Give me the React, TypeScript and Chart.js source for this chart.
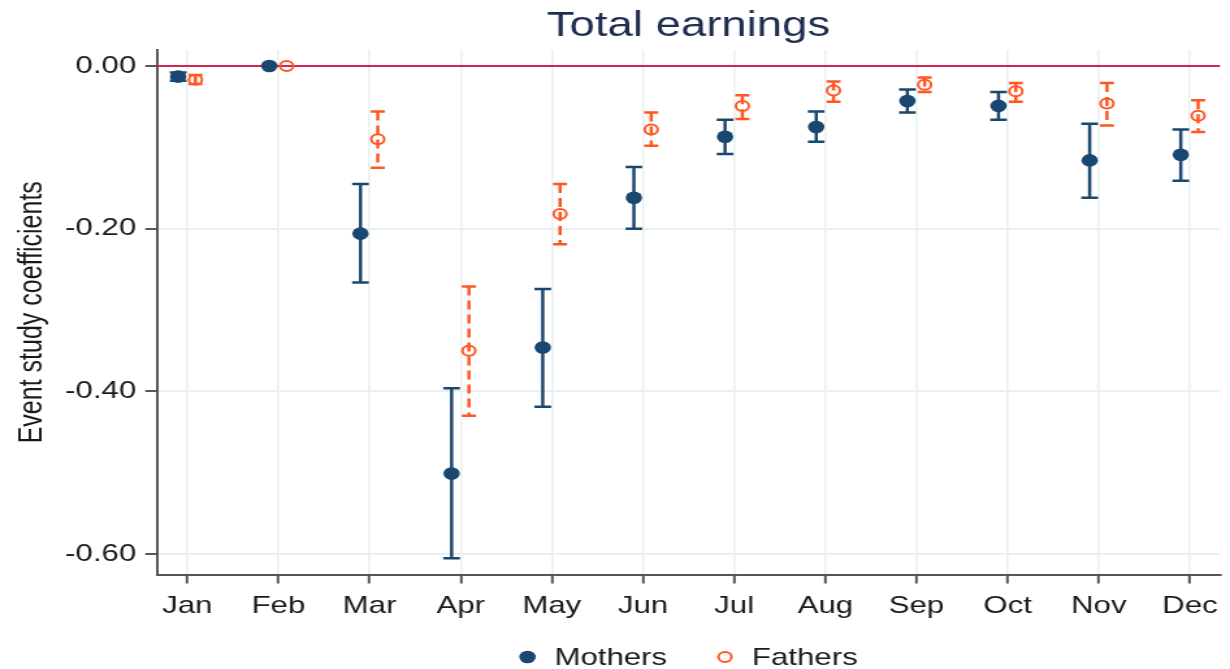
import React, { useEffect, useRef } from 'react';
import { Chart, registerables } from 'chart.js';

Chart.register(...registerables);

// ---------- data ----------
const months = ['Jan', 'Feb', 'Mar', 'Apr', 'May', 'Jun', 'Jul', 'Aug', 'Sep', 'Oct', 'Nov', 'Dec'];
const yTickValues = [-0.6, -0.4, -0.2, 0];

const mothersCoef = [-0.013, 0, -0.206, -0.501, -0.346, -0.162, -0.087, -0.075, -0.043, -0.049, -0.116, -0.109];
const mothersLow = [-0.018, null, -0.266, -0.605, -0.419, -0.2, -0.108, -0.093, -0.057, -0.066, -0.162, -0.141];
const mothersHigh = [-0.008, null, -0.145, -0.396, -0.274, -0.124, -0.066, -0.056, -0.029, -0.032, -0.071, -0.078];

const fathersCoef = [-0.017, 0, -0.09, -0.35, -0.182, -0.078, -0.049, -0.03, -0.023, -0.031, -0.046, -0.061];
const fathersLow = [-0.022, null, -0.125, -0.43, -0.219, -0.098, -0.065, -0.044, -0.032, -0.044, -0.073, -0.081];
const fathersHigh = [-0.011, null, -0.056, -0.271, -0.145, -0.057, -0.036, -0.019, -0.014, -0.021, -0.021, -0.042];

const mothersOffset = -0.1;
const fathersOffset = 0.09;

const xAxisMin = 0.668;
const xAxisMax = 12.33;
const yAxisMin = -0.6251;
const yAxisMax = 0.0197;

// ---------- style ----------
const STRETCH = 1230 / 946;
const FONT = "'Liberation Sans', Arial, Helvetica, sans-serif";
const NAVY = '#1a476f';
const ORANGE = '#ff5722';
const ZERO_COLOR = '#cf2652';
const GRID = '#e8f0f2';
const AXIS = '#555555';
const TEXT = '#1a1a1a';
const TITLE = '#1f2d4f';

const series = [
  { label: 'Mothers', coef: mothersCoef, low: mothersLow, high: mothersHigh, offset: mothersOffset, color: NAVY, filled: true, dash: [] as number[], cap: 6.4 },
  { label: 'Fathers', coef: fathersCoef, low: fathersLow, high: fathersHigh, offset: fathersOffset, color: ORANGE, filled: false, dash: [9, 5], cap: 5.4 },
];

const errorBarsPlugin = {
  id: 'errorBars',
  beforeDatasetsDraw(chart: any) {
    const { ctx, chartArea, scales } = chart;
    const x = scales.x;
    const y = scales.y;
    ctx.save();
    // zero reference line
    const y0 = y.getPixelForValue(0);
    ctx.strokeStyle = ZERO_COLOR;
    ctx.lineWidth = 2;
    ctx.beginPath();
    ctx.moveTo(chartArea.left, y0);
    ctx.lineTo(chartArea.right, y0);
    ctx.stroke();

    series.forEach((s) => {
      ctx.strokeStyle = s.color;
      ctx.lineWidth = 2.5;
      s.low.forEach((lo, i) => {
        const hi = s.high[i];
        if (lo == null || hi == null) return;
        const px = x.getPixelForValue(i + 1 + s.offset);
        const pLo = y.getPixelForValue(lo);
        const pHi = y.getPixelForValue(hi);
        ctx.setLineDash(s.dash);
        ctx.beginPath();
        ctx.moveTo(px, pHi);
        ctx.lineTo(px, pLo);
        ctx.stroke();
        ctx.setLineDash([]);
        ctx.beginPath();
        ctx.moveTo(px - s.cap, pHi);
        ctx.lineTo(px + s.cap, pHi);
        ctx.moveTo(px - s.cap, pLo);
        ctx.lineTo(px + s.cap, pLo);
        ctx.stroke();
      });
    });
    ctx.restore();
  },
};

const legendPlugin = {
  id: 'bottomLegend',
  afterDraw(chart: any) {
    const { ctx, chartArea } = chart;
    ctx.save();
    ctx.font = `24px ${FONT}`;
    ctx.textBaseline = 'middle';
    ctx.textAlign = 'left';
    const markerR = 6.3;
    const gapMarkerText = 20.7;
    const gapItems = 44.5;
    const widths = series.map((s) => ctx.measureText(s.label).width);
    const total = markerR + gapMarkerText + widths[0] + gapItems + gapMarkerText + widths[1];
    const center = (chartArea.left + chartArea.right) / 2;
    let cx = center - total / 2 + markerR;
    const cy = chart.height - 12;
    series.forEach((s, i) => {
      ctx.beginPath();
      if (s.filled) {
        ctx.fillStyle = s.color;
        ctx.arc(cx, cy, markerR, 0, Math.PI * 2);
        ctx.fill();
      } else {
        ctx.strokeStyle = s.color;
        ctx.lineWidth = 2;
        ctx.arc(cx, cy, 5, 0, Math.PI * 2);
        ctx.stroke();
      }
      ctx.fillStyle = TEXT;
      ctx.fillText(s.label, cx + gapMarkerText, cy + 1.5);
      cx += gapMarkerText + widths[i] + gapItems;
    });
    ctx.restore();
  },
};

export default function App() {
  const ref = useRef<HTMLCanvasElement>(null);

  useEffect(() => {
    if (!ref.current) return;
    Chart.defaults.font.family = FONT;
    const chart = new Chart(ref.current, {
      type: 'scatter',
      data: {
        datasets: series.map((s) => ({
          label: s.label,
          data: s.coef.map((v, i) => ({ x: i + 1 + s.offset, y: v })),
          pointStyle: 'circle',
          pointRadius: s.filled ? 6.3 : 5,
          pointHoverRadius: s.filled ? 6.3 : 5,
          pointBackgroundColor: s.filled ? s.color : 'rgba(0,0,0,0)',
          pointBorderColor: s.color,
          pointBorderWidth: s.filled ? 0 : 2,
          showLine: false,
        })),
      },
      options: {
        animation: false,
        responsive: true,
        maintainAspectRatio: false,
        events: [],
        layout: { padding: { left: 0, right: 7.7, top: 0, bottom: 0 } },
        plugins: {
          legend: { display: false },
          tooltip: { enabled: false },
          title: {
            display: true,
            fullSize: false,
            text: 'Total earnings',
            color: TITLE,
            font: { family: FONT, size: 35, weight: 'normal' },
            padding: { top: 5, bottom: 3 },
          },
        },
        scales: {
          x: {
            type: 'linear',
            min: xAxisMin,
            max: xAxisMax,
            afterBuildTicks: (scale: any) => {
              scale.ticks = months.map((_, i) => ({ value: i + 1 }));
            },
            afterFit: (scale: any) => {
              scale.height = 94.5;
            },
            ticks: {
              callback: (v: any) => months[Math.round(Number(v)) - 1] ?? '',
              font: { family: FONT, size: 24 },
              color: TEXT,
              padding: 8,
              autoSkip: false,
              maxRotation: 0,
              minRotation: 0,
            },
            grid: {
              color: GRID,
              lineWidth: 1.6,
              tickLength: 9,
              tickColor: AXIS,
              tickWidth: 2,
            },
            border: { display: true, color: AXIS, width: 2 },
          },
          y: {
            type: 'linear',
            min: yAxisMin,
            max: yAxisMax,
            afterBuildTicks: (scale: any) => {
              scale.ticks = yTickValues.map((v) => ({ value: v }));
            },
            afterFit: (scale: any) => {
              scale.width = 120.75;
            },
            ticks: {
              callback: (v: any) => Number(v).toFixed(2),
              font: { family: FONT, size: 24 },
              color: TEXT,
              padding: 7,
            },
            grid: {
              color: GRID,
              lineWidth: 2,
              tickLength: 9,
              tickColor: AXIS,
              tickWidth: 2,
            },
            border: { display: true, color: AXIS, width: 2 },
            title: {
              display: true,
              text: 'Event study coefficients',
              color: TEXT,
              font: { family: FONT, size: 25 },
              padding: { top: 10, bottom: 0 },
            },
          },
        },
      },
      plugins: [errorBarsPlugin, legendPlugin],
    } as any);
    return () => chart.destroy();
  }, []);

  return (
    <div
      style={{
        position: 'absolute',
        left: 0,
        top: 0,
        width: 946,
        height: 669,
        transform: `scaleX(${STRETCH})`,
        transformOrigin: '0 0',
      }}
    >
      <canvas ref={ref} />
    </div>
  );
}
